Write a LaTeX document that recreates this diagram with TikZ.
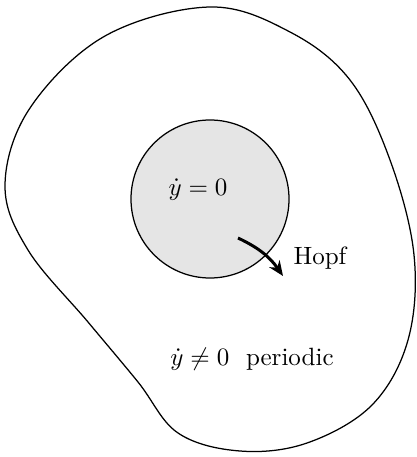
\documentclass[tikz,border=0pt]{standalone}
\usepackage{amsmath,amssymb}
\usetikzlibrary{positioning, calc, arrows.meta}

\begin{document}
\begin{tikzpicture}[x=0.4pt,y=-0.4pt,
    region/.style={draw,line width=0.5pt},
    lbl/.style={inner sep=1pt}]
      \useasboundingbox (0,0) rectangle (416,457);
      % outer region
      \draw[region] plot[smooth cycle,tension=0.6] coordinates{(210,7) (290,32) (350,80) (390,160) (414,255) (408,340) (372,405) (307,443) (240,451) (178,433) (138,382) (88,322) (28,250) (5,185) (30,108) (105,36)};
      % fixed point region
      \draw[region,fill=black!10] (210,199) circle (79);
      \node[lbl] (fix) at (198,190) {$\dot{y}=0$};
      \node[lbl] (per) at (252,359) {$\dot{y}\neq 0$\ \ periodic};
      \coordinate (hs) at (238,238);
      \coordinate (he) at (283,276);
      \node[lbl,right=3pt of he,yshift=7pt] (hopf) {Hopf};
      \draw[-{Stealth[length=6pt,width=5pt]},line width=1.2pt] (hs) to[bend left=15] (he);
\end{tikzpicture}
\end{document}
